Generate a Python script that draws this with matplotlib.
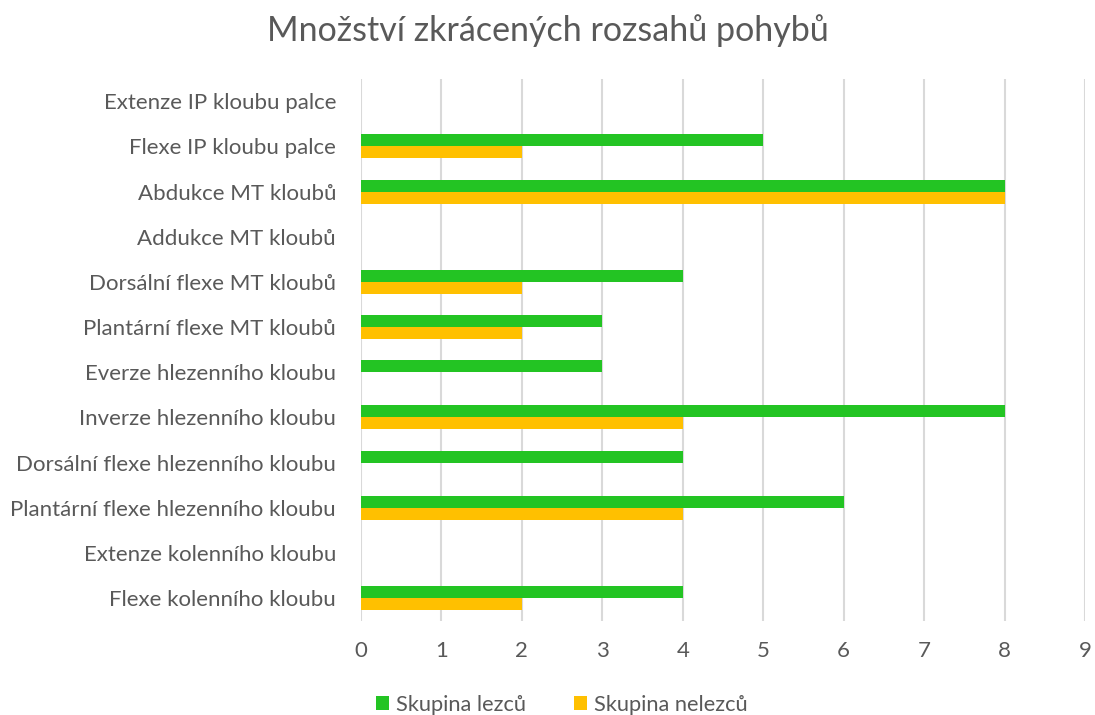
import numpy as np
import matplotlib.pyplot as plt

categories = [
    "Flexe kolenního kloubu",
    "Extenze kolenního kloubu",
    "Plantární flexe hlezenního kloubu",
    "Dorsální flexe hlezenního kloubu",
    "Inverze hlezenního kloubu",
    "Everze hlezenního kloubu",
    "Plantární flexe MT kloubů",
    "Dorsální flexe MT kloubů",
    "Addukce MT kloubů",
    "Abdukce MT kloubů",
    "Flexe IP kloubu palce",
    "Extenze IP kloubu palce",
]
lezci = [4, 0, 6, 4, 8, 3, 3, 4, 0, 8, 5, 0]
nelezci = [2, 0, 4, 0, 4, 0, 2, 2, 0, 8, 2, 0]
series_names = ["Skupina lezců", "Skupina nelezců"]

plt.rcParams['font.family'] = ['Lato', 'DejaVu Sans']
text_col = '#595959'

fig = plt.figure(figsize=(10.95, 7.15), dpi=100)
ax = fig.add_axes([0.3297, 0.132, 0.9909 - 0.3297, 0.758])

y = np.arange(len(categories))
h = 0.265
ax.barh(y + h / 2, lezci, height=h, color='#23C423', label=series_names[0], zorder=3)
ax.barh(y - h / 2, nelezci, height=h, color='#FFC000', label=series_names[1], zorder=3)

ax.set_ylim(-0.5, len(categories) - 0.5)
ax.set_xlim(0, 9)
ax.set_xticks(range(10))
ax.set_yticks(y)
ax.set_yticklabels(categories)
ax.grid(axis='x', color='#D9D9D9', linewidth=1.5, zorder=0)
for s in ax.spines.values():
    s.set_visible(False)
ax.tick_params(length=0, labelsize=16, colors=text_col)
ax.tick_params(axis='x', pad=15)
ax.tick_params(axis='y', pad=18)

fig.suptitle("Množství zkrácených rozsahů pohybů", y=0.98, fontsize=24.5, color=text_col)
fig.legend(loc='lower center', bbox_to_anchor=(0.513, -0.027), ncol=2, frameon=False,
           fontsize=15.7, labelcolor=text_col, handlelength=0.6, handleheight=0.6,
           handletextpad=0.3, columnspacing=2.2)

fig.savefig('out.png', dpi=100)
